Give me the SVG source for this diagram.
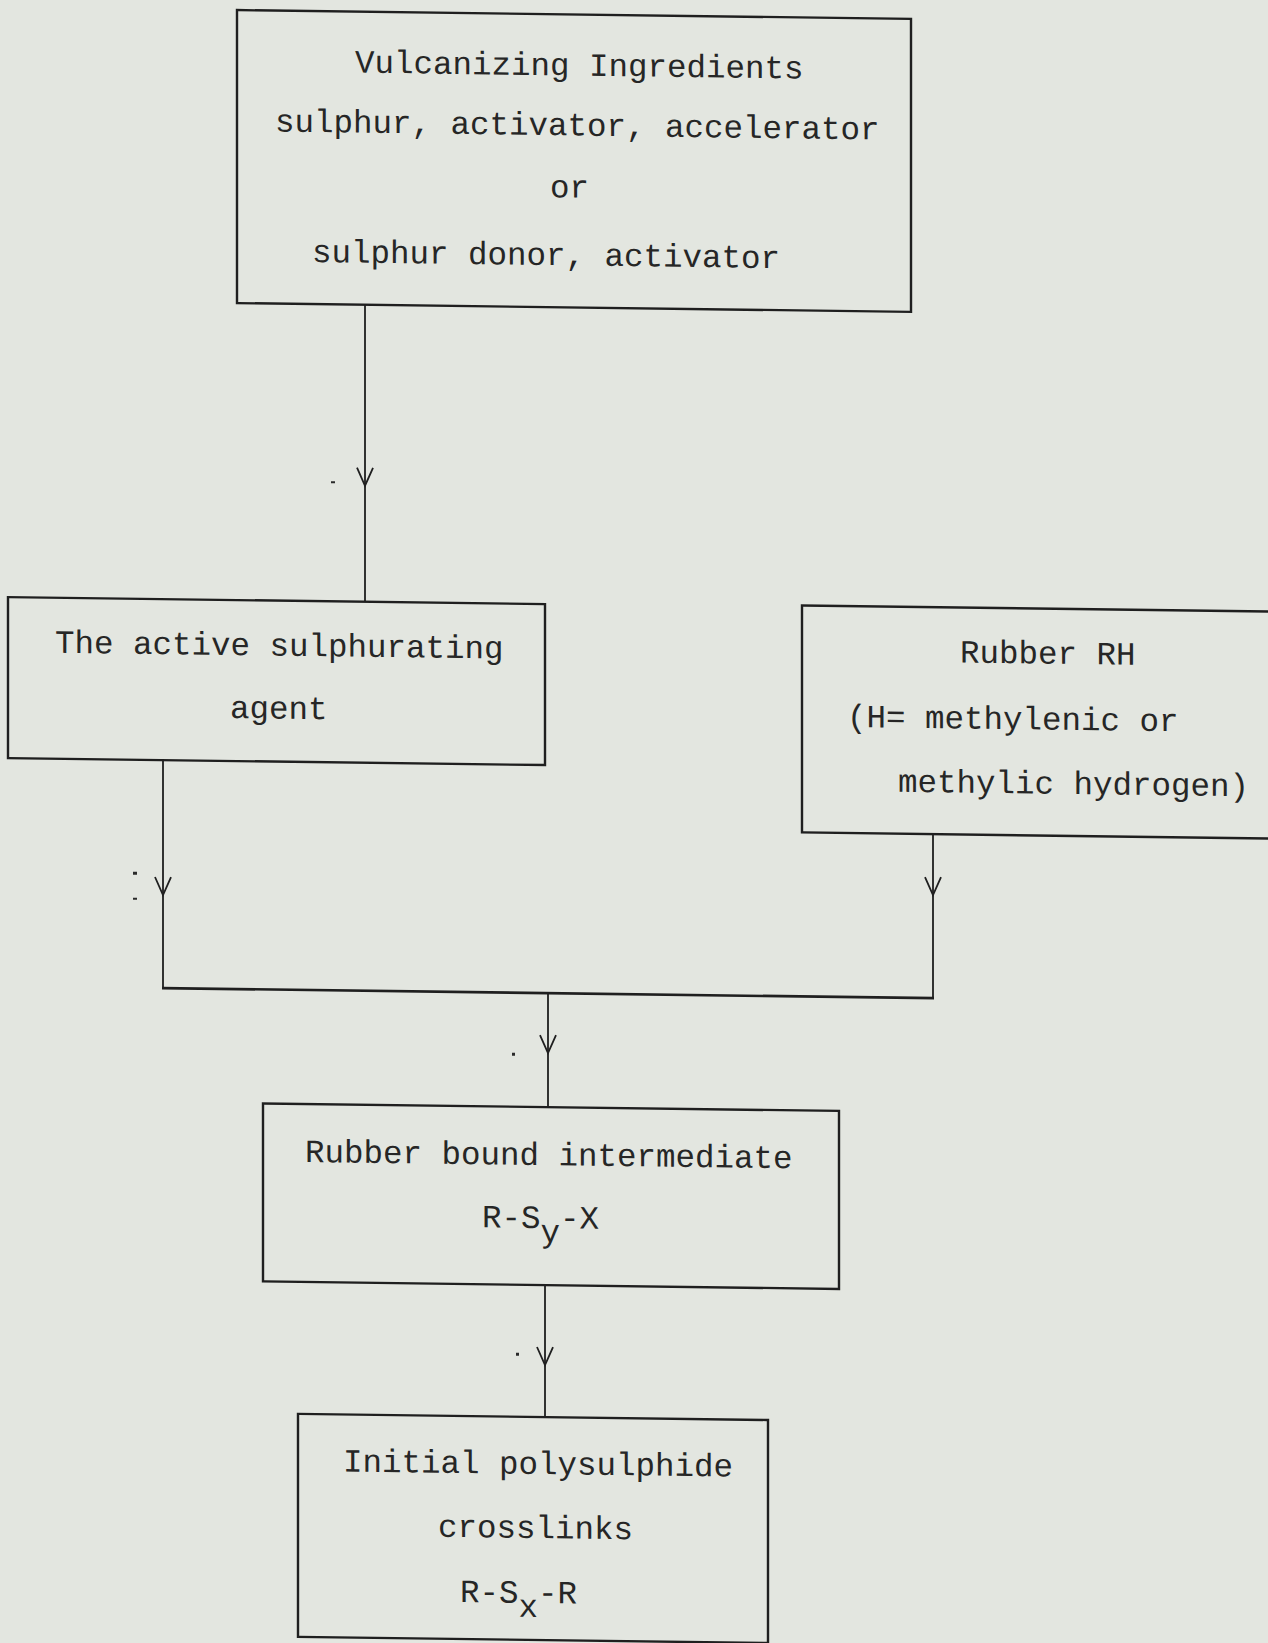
<svg xmlns="http://www.w3.org/2000/svg" width="1268" height="1643" viewBox="0 0 1268 1643">
  <style>
    .bg { fill: #e3e6e0; }
    .box { fill: none; stroke: #1f1f1f; stroke-width: 2.4; }
    .line { fill: none; stroke: #1f1f1f; stroke-width: 1.8; }
    .hline { fill: none; stroke: #1f1f1f; stroke-width: 2.6; }
    .arrow { fill: none; stroke: #1f1f1f; stroke-width: 1.8; stroke-linejoin: miter; }
    .speck { fill: #2a2a2a; }
    text { font-family: "Liberation Mono", "Courier New", monospace; font-size: 32.5px; fill: #262626; }
  </style>
  <rect class="bg" x="0" y="0" width="1268" height="1643"/>
  <g transform="skewY(0.745)">
    <g id="node-vulcanizing">
      <rect class="box" x="237" y="7" width="674" height="293"/>
      <text x="355" y="68">Vulcanizing Ingredients</text>
      <text x="275" y="128">sulphur, activator, accelerator</text>
      <text x="550" y="190">or</text>
      <text x="312" y="258">sulphur donor, activator</text>
    </g>
    <g id="node-active-agent">
      <rect class="box" x="8" y="597" width="537" height="161"/>
      <text x="55" y="652">The active sulphurating</text>
      <text x="230" y="715">agent</text>
    </g>
    <g id="node-rubber">
      <rect class="box" x="802" y="595" width="500" height="227"/>
      <text x="960" y="650">Rubber RH</text>
      <text x="847" y="716">(H= methylenic or</text>
      <text x="898" y="780">methylic hydrogen)</text>
    </g>
    <g id="node-intermediate">
      <rect class="box" x="263" y="1100" width="576" height="178"/>
      <text x="305" y="1158">Rubber bound intermediate</text>
      <text x="482" y="1221">R-S<tspan dy="14">y</tspan><tspan dy="-14">-X</tspan></text>
    </g>
    <g id="node-crosslinks">
      <rect class="box" x="298" y="1410" width="470" height="223"/>
      <text x="343" y="1467">Initial polysulphide</text>
      <text x="438" y="1531">crosslinks</text>
      <text x="460" y="1596">R-S<tspan dy="14">x</tspan><tspan dy="-14">-R</tspan></text>
    </g>
    <g id="connectors">
      <path class="line" d="M365 300 V597"/>
      <path class="arrow" d="M357 463 L365 481 L373 463"/>
      <path class="line" d="M163 758 V986"/>
      <path class="arrow" d="M155 875 L163 893 L171 875"/>
      <path class="line" d="M933 822 V985"/>
      <path class="arrow" d="M925 865 L933 883 L941 865"/>
      <path class="hline" d="M162 986 H934"/>
      <path class="line" d="M548 986 V1100"/>
      <path class="arrow" d="M540 1028 L548 1046 L556 1028"/>
      <path class="line" d="M545 1278 V1410"/>
      <path class="arrow" d="M537 1340 L545 1358 L553 1340"/>
    </g>
    <g id="specks">
      <rect class="speck" x="331" y="477" width="4" height="2"/>
      <rect class="speck" x="133" y="870" width="4" height="3"/>
      <rect class="speck" x="133" y="896" width="4" height="2"/>
      <rect class="speck" x="512" y="1046" width="3" height="3"/>
      <rect class="speck" x="516" y="1346" width="3" height="3"/>
    </g>
  </g>
</svg>
